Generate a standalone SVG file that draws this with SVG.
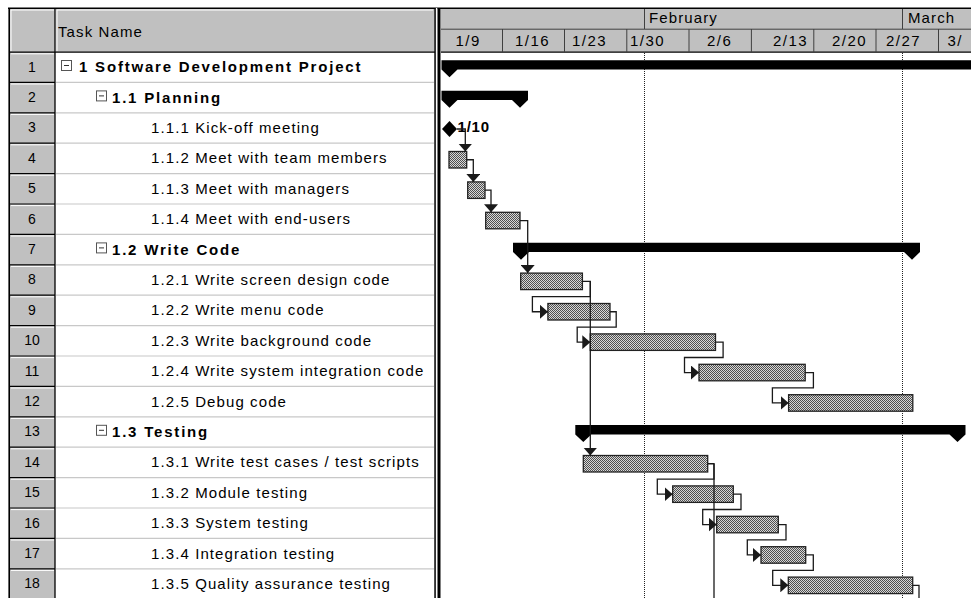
<svg xmlns="http://www.w3.org/2000/svg" width="971" height="598" viewBox="0 0 971 598">
<defs>
<pattern id="dots" width="2" height="2" patternUnits="userSpaceOnUse">
<rect width="2" height="2" fill="#d8d8d8"/>
<rect width="1" height="1" fill="#505050"/>
<rect x="1" y="1" width="1" height="1" fill="#505050"/>
</pattern>
<marker id="arr" markerUnits="userSpaceOnUse" markerWidth="9" markerHeight="14" refX="8" refY="7" orient="auto" viewBox="0 0 9 14"><path d="M0,0 L8,7 L0,14 z" fill="#1a1a1a"/></marker>
</defs>
<style>
.num{font-family:"Liberation Sans",Arial,sans-serif;font-size:14px;fill:#000;text-anchor:middle}
.nm{font-family:"Liberation Sans",Arial,sans-serif;font-size:15px;letter-spacing:1.1px;fill:#000}
.b{font-weight:bold;letter-spacing:1.8px}
.wk{font-family:"Liberation Sans",Arial,sans-serif;font-size:15px;letter-spacing:1.5px;fill:#000}
.bar{fill:url(#dots);stroke:#222;stroke-width:1.3}
.sum{fill:#000}
.cn{fill:none;stroke:#1a1a1a;stroke-width:1.3}
.cna{fill:none;stroke:#1a1a1a;stroke-width:1.3;marker-end:url(#arr)}
.sep{stroke:#c8c8c8;stroke-width:1.2}
.nb{stroke:#000;stroke-width:1.2}
.hl{stroke:#fff;stroke-width:1}
.dk{stroke:#404040;stroke-width:1}
.box{fill:#fff;stroke:#555;stroke-width:1}
.dot{stroke:#222;stroke-width:1;stroke-dasharray:1 1}
</style>

<g id="table-frame">
<rect x="0" y="0" width="971" height="598" fill="#fff"/>
<rect x="10" y="9" width="45" height="589" fill="#c0c0c0"/>
<rect x="56" y="9" width="378.5" height="43" fill="#c0c0c0"/>
<rect x="441" y="9" width="530" height="43" fill="#c0c0c0"/>
<line x1="11" y1="10" x2="54" y2="10" class="hl"/>
<line x1="11" y1="10" x2="11" y2="51" class="hl"/>
<line x1="57" y1="10" x2="433" y2="10" class="hl"/>
<line x1="57" y1="10" x2="57" y2="51" class="hl"/>
<line x1="8" y1="8.2" x2="971" y2="8.2" stroke="#000" stroke-width="1.6"/>
<line x1="9.2" y1="8" x2="9.2" y2="598" stroke="#000" stroke-width="1.6"/>
<line x1="55" y1="9" x2="55" y2="598" stroke="#000" stroke-width="1.3"/>
<line x1="10" y1="52.2" x2="435" y2="52.2" stroke="#000" stroke-width="1.2"/>
<line x1="441" y1="52.2" x2="971" y2="52.2" stroke="#000" stroke-width="1.2"/>
<text x="58" y="37" class="nm">Task Name</text>
<g>
<line x1="10" y1="82.4" x2="55" y2="82.4" class="nb"/>
<line x1="10" y1="112.8" x2="55" y2="112.8" class="nb"/>
<line x1="10" y1="143.2" x2="55" y2="143.2" class="nb"/>
<line x1="10" y1="173.6" x2="55" y2="173.6" class="nb"/>
<line x1="10" y1="204" x2="55" y2="204" class="nb"/>
<line x1="10" y1="234.4" x2="55" y2="234.4" class="nb"/>
<line x1="10" y1="264.8" x2="55" y2="264.8" class="nb"/>
<line x1="10" y1="295.2" x2="55" y2="295.2" class="nb"/>
<line x1="10" y1="325.6" x2="55" y2="325.6" class="nb"/>
<line x1="10" y1="356" x2="55" y2="356" class="nb"/>
<line x1="10" y1="386.4" x2="55" y2="386.4" class="nb"/>
<line x1="10" y1="416.8" x2="55" y2="416.8" class="nb"/>
<line x1="10" y1="447.2" x2="55" y2="447.2" class="nb"/>
<line x1="10" y1="477.6" x2="55" y2="477.6" class="nb"/>
<line x1="10" y1="508" x2="55" y2="508" class="nb"/>
<line x1="10" y1="538.4" x2="55" y2="538.4" class="nb"/>
<line x1="10" y1="568.8" x2="55" y2="568.8" class="nb"/>
<line x1="11" y1="53.8" x2="54" y2="53.8" class="hl"/>
<line x1="11" y1="84" x2="54" y2="84" class="hl"/>
<line x1="11" y1="114.4" x2="54" y2="114.4" class="hl"/>
<line x1="11" y1="144.8" x2="54" y2="144.8" class="hl"/>
<line x1="11" y1="175.2" x2="54" y2="175.2" class="hl"/>
<line x1="11" y1="205.6" x2="54" y2="205.6" class="hl"/>
<line x1="11" y1="236" x2="54" y2="236" class="hl"/>
<line x1="11" y1="266.4" x2="54" y2="266.4" class="hl"/>
<line x1="11" y1="296.8" x2="54" y2="296.8" class="hl"/>
<line x1="11" y1="327.2" x2="54" y2="327.2" class="hl"/>
<line x1="11" y1="357.6" x2="54" y2="357.6" class="hl"/>
<line x1="11" y1="388" x2="54" y2="388" class="hl"/>
<line x1="11" y1="418.4" x2="54" y2="418.4" class="hl"/>
<line x1="11" y1="448.8" x2="54" y2="448.8" class="hl"/>
<line x1="11" y1="479.2" x2="54" y2="479.2" class="hl"/>
<line x1="11" y1="509.6" x2="54" y2="509.6" class="hl"/>
<line x1="11" y1="540" x2="54" y2="540" class="hl"/>
<line x1="11" y1="570.4" x2="54" y2="570.4" class="hl"/>
</g>
<g>
<line x1="56" y1="82.4" x2="434" y2="82.4" class="sep"/>
<line x1="56" y1="112.8" x2="434" y2="112.8" class="sep"/>
<line x1="56" y1="143.2" x2="434" y2="143.2" class="sep"/>
<line x1="56" y1="173.6" x2="434" y2="173.6" class="sep"/>
<line x1="56" y1="204" x2="434" y2="204" class="sep"/>
<line x1="56" y1="234.4" x2="434" y2="234.4" class="sep"/>
<line x1="56" y1="264.8" x2="434" y2="264.8" class="sep"/>
<line x1="56" y1="295.2" x2="434" y2="295.2" class="sep"/>
<line x1="56" y1="325.6" x2="434" y2="325.6" class="sep"/>
<line x1="56" y1="356" x2="434" y2="356" class="sep"/>
<line x1="56" y1="386.4" x2="434" y2="386.4" class="sep"/>
<line x1="56" y1="416.8" x2="434" y2="416.8" class="sep"/>
<line x1="56" y1="447.2" x2="434" y2="447.2" class="sep"/>
<line x1="56" y1="477.6" x2="434" y2="477.6" class="sep"/>
<line x1="56" y1="508" x2="434" y2="508" class="sep"/>
<line x1="56" y1="538.4" x2="434" y2="538.4" class="sep"/>
<line x1="56" y1="568.8" x2="434" y2="568.8" class="sep"/>
</g>
<rect x="434.3" y="8" width="1.6" height="590" fill="#000"/>
<rect x="435.9" y="8" width="1.6" height="590" fill="#fff"/>
<rect x="437.5" y="8" width="2.5" height="590" fill="#000"/>
<rect x="440" y="9" width="1" height="589" fill="#808080"/>
</g>

<g id="timescale">
<line x1="441" y1="29.2" x2="971" y2="29.2" class="dk"/>
<line x1="644.5" y1="9" x2="644.5" y2="29" class="dk"/>
<line x1="902.5" y1="9" x2="902.5" y2="29" class="dk"/>
<text x="649" y="23" class="nm">February</text>
<text x="908" y="23" class="nm">March</text>
<line x1="502.5" y1="29" x2="502.5" y2="52" class="dk"/>
<line x1="564.5" y1="29" x2="564.5" y2="52" class="dk"/>
<line x1="626.8" y1="29" x2="626.8" y2="52" class="dk"/>
<line x1="689" y1="29" x2="689" y2="52" class="dk"/>
<line x1="751.4" y1="29" x2="751.4" y2="52" class="dk"/>
<line x1="813.8" y1="29" x2="813.8" y2="52" class="dk"/>
<line x1="876" y1="29" x2="876" y2="52" class="dk"/>
<line x1="938.5" y1="29" x2="938.5" y2="52" class="dk"/>
<text x="455.5" y="46" class="wk">1/9</text>
<text x="515" y="46" class="wk">1/16</text>
<text x="572" y="46" class="wk">1/23</text>
<text x="630" y="46" class="wk">1/30</text>
<text x="707" y="46" class="wk">2/6</text>
<text x="773" y="46" class="wk">2/13</text>
<text x="832" y="46" class="wk">2/20</text>
<text x="886" y="46" class="wk">2/27</text>
<text x="947.5" y="46" class="wk">3/</text>
<line x1="644.5" y1="53" x2="644.5" y2="598" class="dot"/>
<line x1="902.5" y1="53" x2="902.5" y2="598" class="dot"/>
</g>

<g id="task-1">
<text x="32" y="71.5" class="num">1</text>
<rect x="61.5" y="60.5" width="10" height="10" class="box"/><line x1="64" y1="65.5" x2="69" y2="65.5" stroke="#333"/>
<text x="79" y="72.2" class="nm b">1 Software Development Project</text>
<polygon class="sum" points="441.5,60.3 975,60.3 975,69.6 457.5,69.6 449.5,77.3 441.5,69.6"/>
</g>
<g id="task-2">
<text x="32" y="101.9" class="num">2</text>
<rect x="96.5" y="90.9" width="10" height="10" class="box"/><line x1="99" y1="95.9" x2="104" y2="95.9" stroke="#333"/>
<text x="112" y="102.6" class="nm b">1.1 Planning</text>
<polygon class="sum" points="441.5,90.7 528,90.7 528,100 520,107.7 512,100 457.5,100 449.5,107.7 441.5,100"/>
</g>
<g id="task-3">
<text x="32" y="132.3" class="num">3</text>
<text x="151" y="133" class="nm">1.1.1 Kick-off meeting</text>
<polygon class="sum" points="442,129 449.5,121 457,129 449.5,137"/>
<text x="457.5" y="131.5" font-family="'Liberation Sans',Arial,sans-serif" font-size="15" font-weight="bold" letter-spacing="0.8">1/10</text>
</g>
<g id="task-4">
<text x="32" y="162.7" class="num">4</text>
<text x="151" y="163.4" class="nm">1.1.2 Meet with team members</text>
<rect x="449" y="151.5" width="17.7" height="16.5" class="bar"/>
</g>
<g id="task-5">
<text x="32" y="193.1" class="num">5</text>
<text x="151" y="193.8" class="nm">1.1.3 Meet with managers</text>
<rect x="467.7" y="181.9" width="17.3" height="16.5" class="bar"/>
</g>
<g id="task-6">
<text x="32" y="223.5" class="num">6</text>
<text x="151" y="224.2" class="nm">1.1.4 Meet with end-users</text>
<rect x="485.7" y="212.3" width="34.3" height="16.5" class="bar"/>
</g>
<g id="task-7">
<text x="32" y="253.9" class="num">7</text>
<rect x="96.5" y="242.9" width="10" height="10" class="box"/><line x1="99" y1="247.9" x2="104" y2="247.9" stroke="#333"/>
<text x="112" y="254.6" class="nm b">1.2 Write Code</text>
<polygon class="sum" points="513,242.7 920,242.7 920,252 912,259.7 904,252 529,252 521,259.7 513,252"/>
</g>
<g id="task-8">
<text x="32" y="284.3" class="num">8</text>
<text x="151" y="285" class="nm">1.2.1 Write screen design code</text>
<rect x="520.7" y="273.1" width="61.7" height="16.5" class="bar"/>
</g>
<g id="task-9">
<text x="32" y="314.7" class="num">9</text>
<text x="151" y="315.4" class="nm">1.2.2 Write menu code</text>
<rect x="547.9" y="303.5" width="62.1" height="16.5" class="bar"/>
</g>
<g id="task-10">
<text x="32" y="345.1" class="num">10</text>
<text x="151" y="345.8" class="nm">1.2.3 Write background code</text>
<rect x="590.3" y="333.9" width="125.2" height="16.5" class="bar"/>
</g>
<g id="task-11">
<text x="32" y="375.5" class="num">11</text>
<text x="151" y="376.2" class="nm">1.2.4 Write system integration code</text>
<rect x="699" y="364.3" width="106.2" height="16.5" class="bar"/>
</g>
<g id="task-12">
<text x="32" y="405.9" class="num">12</text>
<text x="151" y="406.6" class="nm">1.2.5 Debug code</text>
<rect x="788.6" y="394.7" width="124.2" height="16.5" class="bar"/>
</g>
<g id="task-13">
<text x="32" y="436.3" class="num">13</text>
<rect x="96.5" y="425.3" width="10" height="10" class="box"/><line x1="99" y1="430.3" x2="104" y2="430.3" stroke="#333"/>
<text x="112" y="437" class="nm b">1.3 Testing</text>
<polygon class="sum" points="575.3,425.1 965.5,425.1 965.5,434.4 957.5,442.1 949.5,434.4 591.3,434.4 583.3,442.1 575.3,434.4"/>
</g>
<g id="task-14">
<text x="32" y="466.7" class="num">14</text>
<text x="151" y="467.4" class="nm">1.3.1 Write test cases / test scripts</text>
<rect x="583.3" y="455.5" width="124.4" height="16.5" class="bar"/>
</g>
<g id="task-15">
<text x="32" y="497.1" class="num">15</text>
<text x="151" y="497.8" class="nm">1.3.2 Module testing</text>
<rect x="672.7" y="485.9" width="60.6" height="16.5" class="bar"/>
</g>
<g id="task-16">
<text x="32" y="527.5" class="num">16</text>
<text x="151" y="528.2" class="nm">1.3.3 System testing</text>
<rect x="716.7" y="516.3" width="61.6" height="16.5" class="bar"/>
</g>
<g id="task-17">
<text x="32" y="557.9" class="num">17</text>
<text x="151" y="558.6" class="nm">1.3.4 Integration testing</text>
<rect x="761" y="546.7" width="44.7" height="16.5" class="bar"/>
</g>
<g id="task-18">
<text x="32" y="588.3" class="num">18</text>
<text x="151" y="589" class="nm">1.3.5 Quality assurance testing</text>
<rect x="788.3" y="577.1" width="124.4" height="16.5" class="bar"/>
</g>

<g id="connectors">
<path class="cna" d="M457,129 H465.3 V151.5"/>
<path class="cna" d="M466.7,159.75 H473.3 V181.9"/>
<path class="cna" d="M485,190.15 H491 V212.3"/>
<path class="cna" d="M520,220.55 H527.7 V273.1"/>
<path class="cna" d="M582.4,281.35 H590.3 V296.7 H532.4 V311.75 H547.9"/>
<path class="cna" d="M590.3,281.35 V455.5"/>
<path class="cna" d="M610,311.75 H616.2 V327.1 H577.2 V342.15 H590.3"/>
<path class="cna" d="M715.5,342.15 H723.1 V357.5 H684.5 V372.55 H699"/>
<path class="cna" d="M805.2,372.55 H813.4 V387.9 H772.4 V402.95 H788.6"/>
<path class="cna" d="M707.7,463.75 H714 V479.1 H657.3 V494.15 H672.7"/>
<path class="cn" d="M714,463.75 V600"/>
<path class="cna" d="M733.3,494.15 H741 V509.5 H702.7 V524.55 H716.7"/>
<path class="cna" d="M778.3,524.55 H786 V539.9 H747.3 V554.95 H761"/>
<path class="cna" d="M805.7,554.95 H813.3 V570.3 H772.7 V585.35 H788.3"/>
<path class="cn" d="M912.7,585.35 H919 V600"/>
</g>
</svg>
